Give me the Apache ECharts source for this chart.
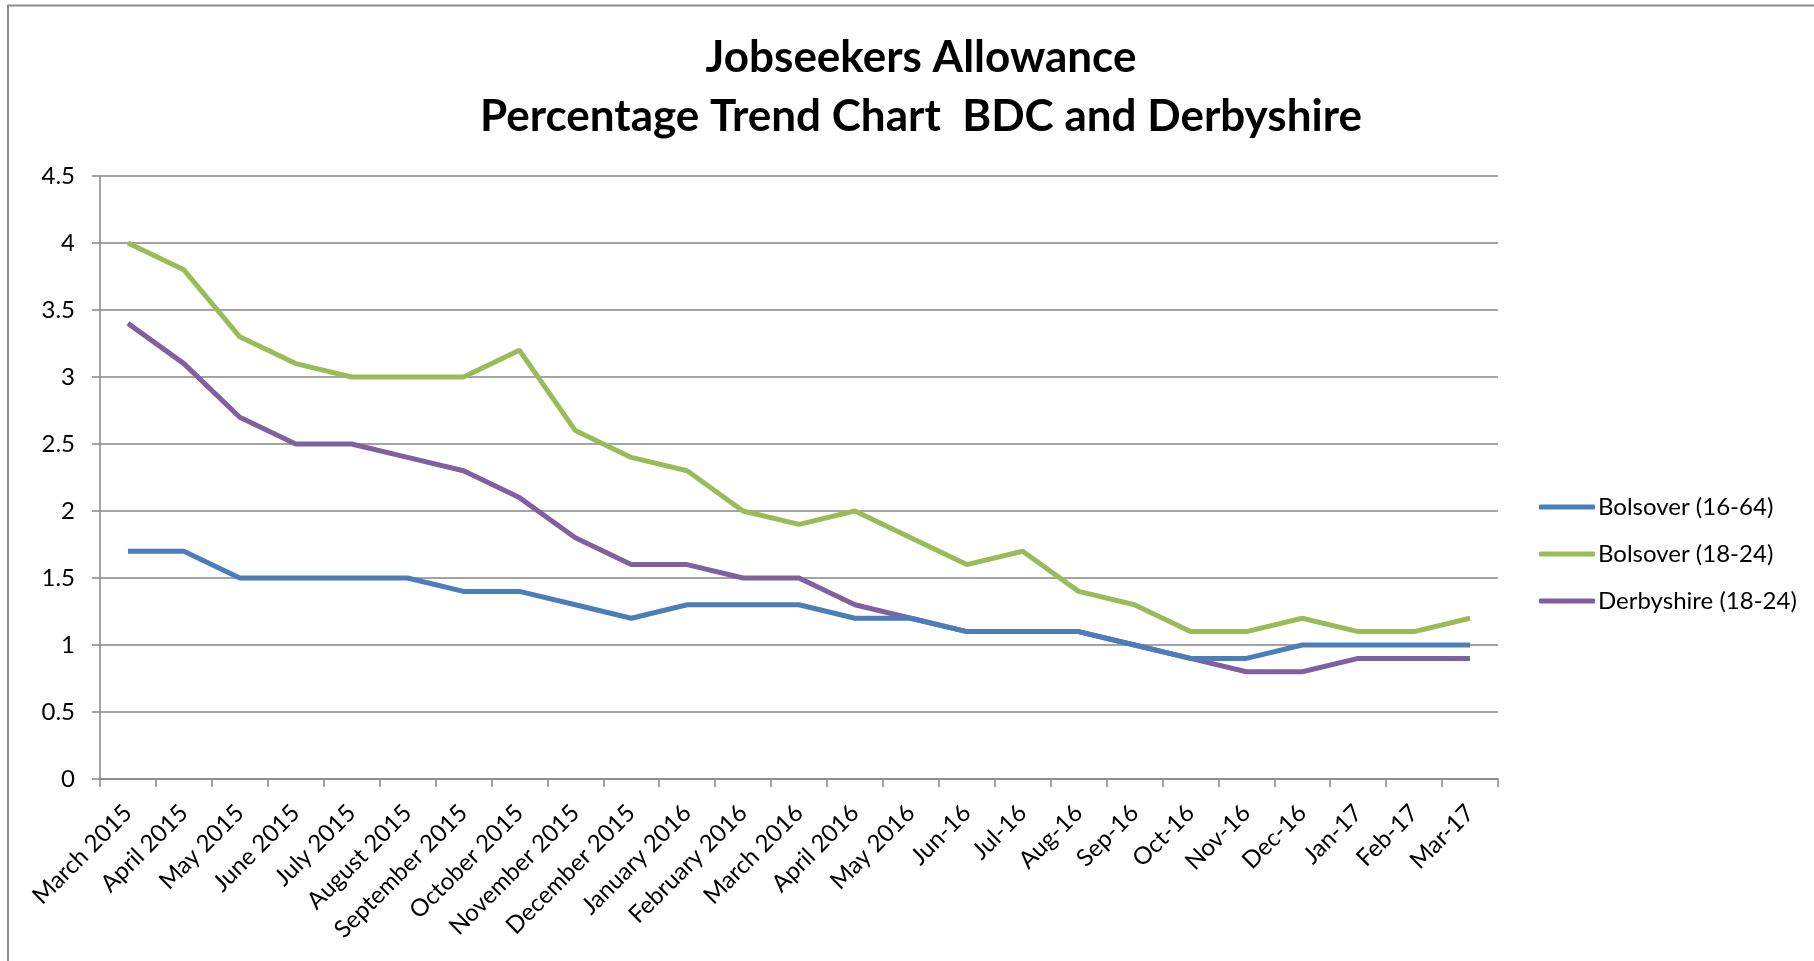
<!DOCTYPE html>
<html><head><meta charset="utf-8">
<script src="https://cdn.jsdelivr.net/npm/echarts@6/dist/echarts.min.js"></script>
<style>html,body{margin:0;padding:0;background:#fff}#c{width:1814px;height:961px}</style>
</head><body><div id="c"></div>
<script>
const categories = ["March 2015","April 2015","May 2015","June 2015","July 2015","August 2015","September 2015","October 2015","November 2015","December 2015","January 2016","February 2016","March 2016","April 2016","May 2016","Jun-16","Jul-16","Aug-16","Sep-16","Oct-16","Nov-16","Dec-16","Jan-17","Feb-17","Mar-17"];
const bolsover1664 = [1.7,1.7,1.5,1.5,1.5,1.5,1.4,1.4,1.3,1.2,1.3,1.3,1.3,1.2,1.2,1.1,1.1,1.1,1.0,0.9,0.9,1.0,1.0,1.0,1.0];
const bolsover1824 = [4.0,3.8,3.3,3.1,3.0,3.0,3.0,3.2,2.6,2.4,2.3,2.0,1.9,2.0,1.8,1.6,1.7,1.4,1.3,1.1,1.1,1.2,1.1,1.1,1.2];
const derbyshire1824 = [3.4,3.1,2.7,2.5,2.5,2.4,2.3,2.1,1.8,1.6,1.6,1.5,1.5,1.3,1.2,1.1,1.1,1.1,1.0,0.9,0.8,0.8,0.9,0.9,0.9];
const seriesNames = ["Bolsover (16-64)","Bolsover (18-24)","Derbyshire (18-24)"];
const colors = ["#4a7ebb","#9bbb59","#7f60a0"];
const titleText = "Jobseekers Allowance\nPercentage Trend Chart  BDC and Derbyshire";

const FONT = "Lato, 'Open Sans', sans-serif";
const chart = echarts.init(document.getElementById('c'));
const mk = (name, data, i) => ({
  name, type: 'line', data, symbol: 'none', z: 3 - i,
  lineStyle: { color: colors[i], width: 5 }, itemStyle: { color: colors[i] }
});
chart.setOption({
  animation: false,
  backgroundColor: '#fff',
  graphic: [{ type: 'rect', shape: { x: 8, y: 5.5, width: 1820, height: 1000 }, style: { fill: 'none', stroke: '#8c8c8c', lineWidth: 2 }, silent: true }],
  title: {
    text: titleText, left: 916, top: 23.5, textAlign: 'center',
    textStyle: { fontFamily: FONT, fontWeight: 'bold', fontSize: 44, lineHeight: 59, color: '#000' }
  },
  legend: {
    orient: 'vertical', left: 1534, top: 490, itemGap: 23,
    icon: 'roundRect', itemWidth: 56, itemHeight: 5,
    textStyle: { fontFamily: FONT, fontSize: 24, color: '#000', padding: [0, 0, 0, -2] },
    data: seriesNames
  },
  grid: { left: 100, right: 316, top: 176, bottom: 182, containLabel: false },
  xAxis: {
    type: 'category', data: categories, boundaryGap: true,
    axisLine: { lineStyle: { color: '#868686', width: 1.5 } },
    axisTick: { show: true, length: 8, lineStyle: { color: '#868686', width: 1.5 } },
    axisLabel: { rotate: 45, interval: 0, margin: 30, fontFamily: FONT, fontSize: 24, color: '#000' }
  },
  yAxis: {
    type: 'value', min: 0, max: 4.5, interval: 0.5,
    axisLine: { show: true, lineStyle: { color: '#868686', width: 1.5 } },
    axisTick: { show: true, length: 8, lineStyle: { color: '#868686', width: 1.5 } },
    splitLine: { lineStyle: { color: '#868686', width: 1.5 } },
    axisLabel: { margin: 25, fontFamily: FONT, fontSize: 24, color: '#000' }
  },
  series: [mk(seriesNames[0], bolsover1664, 0), mk(seriesNames[1], bolsover1824, 1), mk(seriesNames[2], derbyshire1824, 2)]
});
</script></body></html>
